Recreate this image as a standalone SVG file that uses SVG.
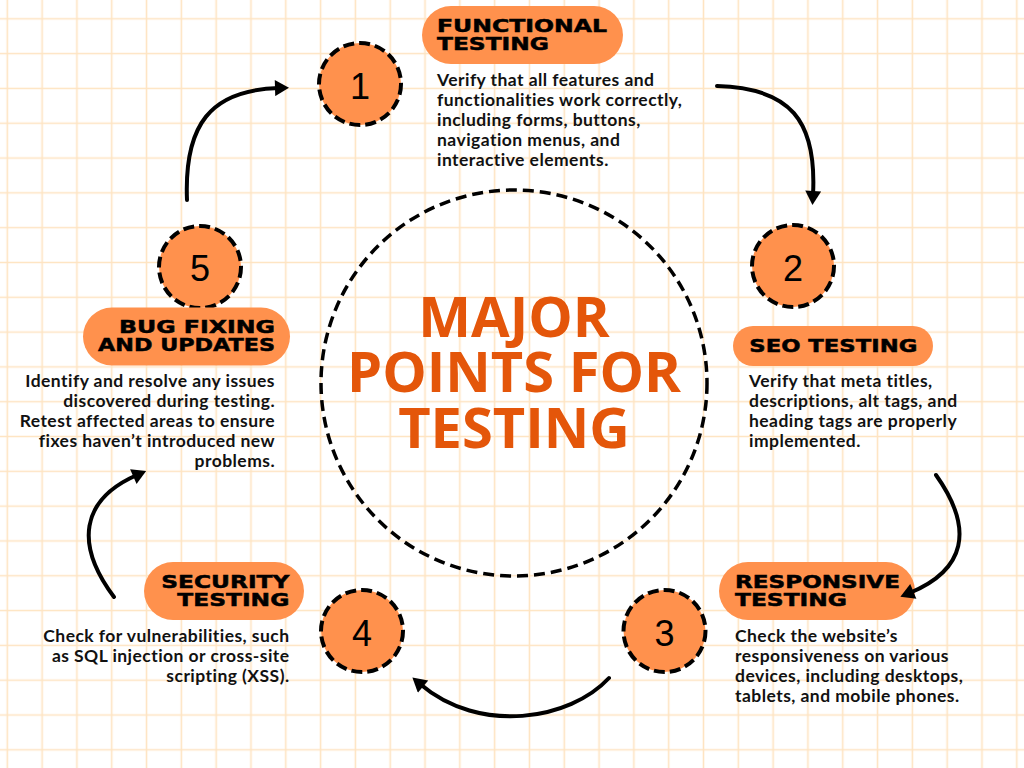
<svg xmlns="http://www.w3.org/2000/svg" width="1024" height="768" viewBox="0 0 1024 768">
<defs>
<pattern id="grid" patternUnits="userSpaceOnUse" x="-10.1" y="1.4" width="34.81" height="34.81">
<path d="M17.405,0 V34.81 M0,17.405 H34.81" stroke="#fee4c2" stroke-width="1.6" fill="none"/>
</pattern>
<marker id="ah" markerUnits="userSpaceOnUse" markerWidth="16" markerHeight="16" viewBox="0 0 14 16" refX="4" refY="8" orient="auto">
<path d="M0,0 L14,8 L0,16 Z" fill="#000"/>
</marker>
<style>
.num{fill:#ff914d;stroke:#000;stroke-width:4;stroke-dasharray:11 5}
.digit{font-family:"Liberation Sans",Arial,sans-serif;font-size:36px;fill:#000;text-anchor:middle}
.pill{fill:#ff914d}
.hd{font-family:"DejaVu Sans",sans-serif;font-weight:bold;font-size:18px;fill:#000;stroke:#000;stroke-width:0.5}
.body{font-family:Lato,"Liberation Sans",sans-serif;font-weight:700;font-size:17.5px;letter-spacing:0.45px;fill:#111}
.end{text-anchor:end}
.arrow{fill:none;stroke:#000;stroke-width:4;stroke-linecap:round;marker-end:url(#ah)}
.title{font-family:"Open Sans","Liberation Sans",sans-serif;font-weight:700;font-size:56px;fill:#e4560a;text-anchor:middle}
</style>
</defs>
<rect width="1024" height="768" fill="#fff"/>
<rect width="1024" height="768" fill="url(#grid)"/>

<g id="center">
<circle cx="514" cy="383" r="193" fill="none" stroke="#000" stroke-width="3.5" stroke-dasharray="11 6"/>
<text class="title" x="514" y="337">MAJOR</text>
<text class="title" x="514" y="392">POINTS FOR</text>
<text class="title" x="514" y="448">TESTING</text>
</g>

<g id="node1">
<circle class="num" cx="360" cy="84" r="41"/>
<text class="digit" x="360" y="99">1</text>
<rect class="pill" x="422" y="6" width="201" height="58" rx="29"/>
<text class="hd" x="437" y="32.3" textLength="170" lengthAdjust="spacingAndGlyphs">FUNCTIONAL</text>
<text class="hd" x="437" y="50" textLength="112" lengthAdjust="spacingAndGlyphs">TESTING</text>
<text class="body" x="437" y="86">Verify that all features and</text>
<text class="body" x="437" y="106">functionalities work correctly,</text>
<text class="body" x="437" y="126">including forms, buttons,</text>
<text class="body" x="437" y="146">navigation menus, and</text>
<text class="body" x="437" y="166">interactive elements.</text>
</g>

<g id="node2">
<circle class="num" cx="793" cy="266" r="41"/>
<text class="digit" x="793" y="280.5">2</text>
<rect class="pill" x="733" y="326" width="200" height="40" rx="20"/>
<text class="hd" x="749.3" y="351.7" textLength="168" lengthAdjust="spacingAndGlyphs">SEO TESTING</text>
<text class="body" x="749" y="387.3">Verify that meta titles,</text>
<text class="body" x="749" y="407.3">descriptions, alt tags, and</text>
<text class="body" x="749" y="427.3">heading tags are properly</text>
<text class="body" x="749" y="447.3">implemented.</text>
</g>

<g id="node3">
<circle class="num" cx="664.5" cy="631" r="41"/>
<text class="digit" x="664.5" y="645.5">3</text>
<rect class="pill" x="719" y="562" width="196" height="58" rx="29"/>
<text class="hd" x="735" y="587.7" textLength="165" lengthAdjust="spacingAndGlyphs">RESPONSIVE</text>
<text class="hd" x="735" y="605.7" textLength="112" lengthAdjust="spacingAndGlyphs">TESTING</text>
<text class="body" x="735" y="641.7">Check the website’s</text>
<text class="body" x="735" y="661.7">responsiveness on various</text>
<text class="body" x="735" y="681.7">devices, including desktops,</text>
<text class="body" x="735" y="701.7">tablets, and mobile phones.</text>
</g>

<g id="node4">
<circle class="num" cx="362" cy="631" r="41"/>
<text class="digit" x="362" y="646">4</text>
<rect class="pill" x="144" y="562" width="160" height="58" rx="29"/>
<text class="hd" x="161.3" y="587.7" textLength="128" lengthAdjust="spacingAndGlyphs">SECURITY</text>
<text class="hd" x="177.3" y="605.7" textLength="112" lengthAdjust="spacingAndGlyphs">TESTING</text>
<text class="body end" x="289.5" y="641.7">Check for vulnerabilities, such</text>
<text class="body end" x="289.5" y="661.7">as SQL injection or cross-site</text>
<text class="body end" x="289.5" y="681.7">scripting (XSS).</text>
</g>

<g id="node5">
<circle class="num" cx="200" cy="267" r="41"/>
<text class="digit" x="200" y="281">5</text>
<rect class="pill" x="83" y="307.5" width="207" height="58" rx="29"/>
<text class="hd" x="119" y="332.7" textLength="156" lengthAdjust="spacingAndGlyphs">BUG FIXING</text>
<text class="hd" x="98" y="350.7" textLength="177" lengthAdjust="spacingAndGlyphs">AND UPDATES</text>
<text class="body end" x="275" y="387.3">Identify and resolve any issues</text>
<text class="body end" x="275" y="407.3">discovered during testing.</text>
<text class="body end" x="275" y="427.3">Retest affected areas to ensure</text>
<text class="body end" x="275" y="447.3">fixes haven’t introduced new</text>
<text class="body end" x="275" y="467.3">problems.</text>
</g>

<g id="connectors">
<path class="arrow" d="M187,200 C184,125 210,90 279,88"/>
<path class="arrow" d="M717,86 C790,88 817,120 813,195"/>
<path class="arrow" d="M936,475 C975,530 965,570 909.6,593"/>
<path class="arrow" d="M609,678 C570,720 480,735 420,684"/>
<path class="arrow" d="M114,597 C75,545 80,500 137,475"/>
</g>
</svg>
